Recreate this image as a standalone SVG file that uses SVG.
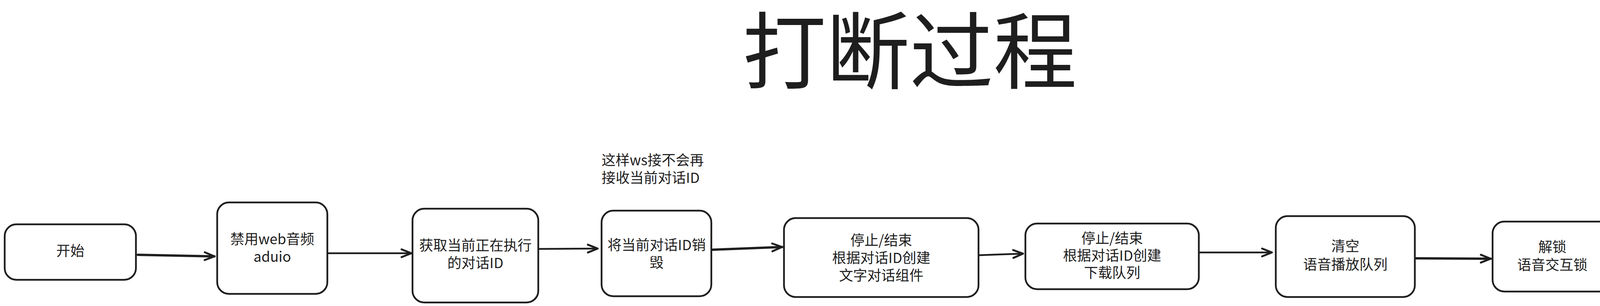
<svg xmlns="http://www.w3.org/2000/svg" width="4138" height="783" viewBox="0 0 4138 783">
<style>
.node rect{fill:#ffffff;stroke:#1e1e1e;stroke-width:4.5}
.t{font-family:"Noto Sans CJK SC","Liberation Sans",sans-serif;font-size:36px;fill:#1e1e1e;text-anchor:middle}
.title{font-family:"Noto Sans CJK SC","Liberation Sans",sans-serif;font-size:214px;fill:#1e1e1e;text-anchor:middle}
.conn path{fill:none;stroke:#1e1e1e;stroke-width:4.5;stroke-linecap:round}
.conn path.thick{stroke-width:6}
</style>
<defs>
<marker id="ah" markerUnits="userSpaceOnUse" markerWidth="40" markerHeight="40" viewBox="-30 -20 40 40" refX="0" refY="0" orient="auto">
<path d="M -25 -10 L 0 0 L -25 10" fill="none" stroke="#1e1e1e" stroke-width="5" stroke-linecap="round" stroke-linejoin="round"/>
</marker>
</defs>
<rect width="4138" height="783" fill="#ffffff"/>
<text class="title" x="2329" y="210">打断过程</text>
<text class="t" x="1540" y="423" style="text-anchor:start">这样ws接不会再</text>
<text class="t" x="1540" y="468" style="text-anchor:start">接收当前对话ID</text>
<g id="node-start" class="node">
<rect x="12" y="574" width="336" height="142" rx="30"/>
<text class="t" x="180" y="655">开始</text>
</g>
<g id="node-disable-audio" class="node">
<rect x="556" y="518" width="282" height="234" rx="30"/>
<text class="t" x="697" y="625">禁用web音频</text>
<text class="t" x="697" y="670">aduio</text>
</g>
<g id="node-get-id" class="node">
<rect x="1056" y="534" width="322" height="240" rx="30"/>
<text class="t" x="1217" y="641">获取当前正在执行</text>
<text class="t" x="1217" y="686">的对话ID</text>
</g>
<g id="node-destroy-id" class="node">
<rect x="1540" y="539" width="281" height="219" rx="30"/>
<text class="t" x="1681" y="640">将当前对话ID销</text>
<text class="t" x="1681" y="685">毁</text>
</g>
<g id="node-stop-text" class="node">
<rect x="2007" y="558" width="498" height="202" rx="30"/>
<text class="t" x="2256" y="628">停止/结束</text>
<text class="t" x="2256" y="673">根据对话ID创建</text>
<text class="t" x="2256" y="718">文字对话组件</text>
</g>
<g id="node-stop-download" class="node">
<rect x="2625" y="572" width="444" height="168" rx="30"/>
<text class="t" x="2847" y="623">停止/结束</text>
<text class="t" x="2847" y="667">根据对话ID创建</text>
<text class="t" x="2847" y="711">下载队列</text>
</g>
<g id="node-clear-queue" class="node">
<rect x="3266" y="553" width="356" height="207" rx="30"/>
<text class="t" x="3444" y="643">清空</text>
<text class="t" x="3444" y="690">语音播放队列</text>
</g>
<g id="node-unlock" class="node">
<rect x="3821" y="567" width="307" height="179" rx="30"/>
<text class="t" x="3974" y="645">解锁</text>
<text class="t" x="3974" y="691">语音交互锁</text>
</g>
<g id="connectors" class="conn">
<path class="thick" d="M 353 652 L 549 656" marker-end="url(#ah)"/>
<path d="M 840 648 L 1053 648" marker-end="url(#ah)"/>
<path d="M 1380 637 L 1530 636" marker-end="url(#ah)"/>
<path class="thick" d="M 1824 639 L 2002 632" marker-end="url(#ah)"/>
<path d="M 2507 653 L 2619 649" marker-end="url(#ah)"/>
<path d="M 3071 646 L 3256 646" marker-end="url(#ah)"/>
<path class="thick" d="M 3626 661 L 3816 662" marker-end="url(#ah)"/>
</g>
</svg>
